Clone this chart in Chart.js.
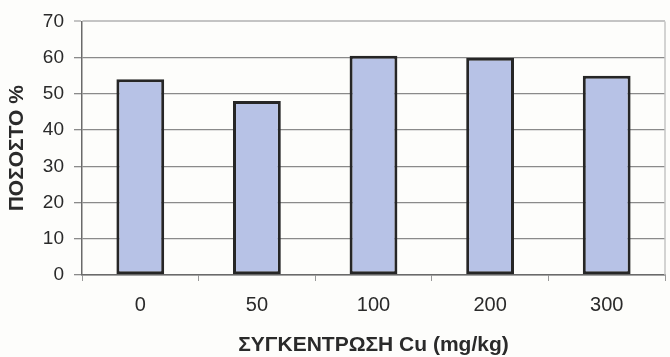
<!DOCTYPE html>
<html>
<head>
<meta charset="utf-8">
<script src="https://cdn.jsdelivr.net/npm/chart.js@4"></script>
<style>
  html, body { margin: 0; padding: 0; background: #fdfdfb; }
  #wrap { width: 670px; height: 357px; }
</style>
</head>
<body>
<div id="wrap"><canvas id="cuChart"></canvas></div>
<script>
const doses = ['0', '50', '100', '200', '300'];
const percent = [54, 48, 60.5, 60, 55];
const yTicks = [0, 10, 20, 30, 40, 50, 60, 70];

// light frame line along the right side of the plot area
const frame = {
  id: 'frame',
  beforeDatasetsDraw(chart) {
    const a = chart.chartArea, ctx = chart.ctx;
    ctx.save();
    ctx.strokeStyle = '#c4c4c4';
    ctx.lineWidth = 1.5;
    ctx.beginPath();
    ctx.moveTo(a.right, a.top);
    ctx.lineTo(a.right, a.bottom);
    ctx.stroke();
    ctx.restore();
  }
};

Chart.defaults.font.family = '"Liberation Sans", Arial, sans-serif';
Chart.defaults.color = '#2a2a2a';

new Chart(document.getElementById('cuChart'), {
  type: 'bar',
  data: {
    labels: doses,
    datasets: [{
      data: percent,
      backgroundColor: '#b7c2e6',
      borderColor: '#262626',
      borderWidth: 3,
      borderSkipped: false,
      barPercentage: 0.41,
      categoryPercentage: 1
    }]
  },
  options: {
    responsive: true,
    maintainAspectRatio: false,
    animation: false,
    layout: { padding: { left: 0, right: 5, top: 21, bottom: 0 } },
    plugins: { legend: { display: false }, tooltip: { enabled: false } },
    scales: {
      x: {
        afterFit(axis) { axis.height = 82; },
        grid: { drawOnChartArea: false, offset: true, tickLength: 6, color: '#999' },
        border: { color: '#6a6a6a', width: 1.5 },
        ticks: { font: { size: 20 }, padding: 12 },
        title: {
          display: true,
          text: 'ΣΥΓΚΕΝΤΡΩΣΗ Cu (mg/kg)',
          font: { size: 21, weight: 'bold', lineHeight: 1 },
          padding: { top: 0, bottom: 1 }
        }
      },
      y: {
        min: 0,
        max: 70,
        afterFit(axis) { axis.width = 82; },
        afterBuildTicks(axis) { axis.ticks = yTicks.map(v => ({ value: v })); },
        grid: {
          color: ctx => (ctx.tick && ctx.tick.value === 70 ? '#c4c4c4' : '#8a8a8a'),
          lineWidth: ctx => (ctx.tick && ctx.tick.value === 70 ? 2 : 1.3),
          tickLength: 8
        },
        border: { color: '#6a6a6a', width: 1.5 },
        ticks: { font: { size: 19 }, padding: 10 },
        title: {
          display: true,
          text: 'ΠΟΣΟΣΤΟ %',
          font: { size: 21, weight: 'bold', lineHeight: 1 },
          padding: { top: 7, bottom: 0 }
        }
      }
    }
  },
  plugins: [frame]
});
</script>
</body>
</html>
